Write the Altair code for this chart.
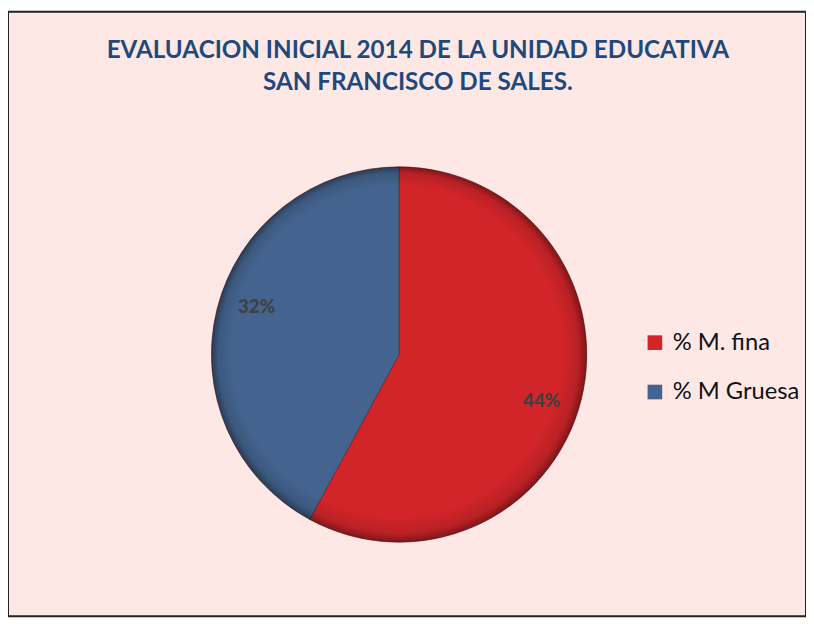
import altair as alt
import pandas as pd

categories = ["% M. fina", "% M Gruesa"]
values = [44, 32]
labels = ["44%", "32%"]
title_lines = ["EVALUACION INICIAL 2014 DE LA UNIDAD EDUCATIVA", "SAN FRANCISCO DE SALES."]
colors = ["#D2252A", "#44648F"]

df = pd.DataFrame({"cat": categories, "val": values, "lab": labels, "order": [0, 1]})
tdf = pd.DataFrame({"line": title_lines, "row": [0, 1]})

FONT = "Lato, sans-serif"
CX, CY, R = 396, 347, 190

base = alt.Chart(df).encode(
    theta=alt.Theta("val:Q", stack=True),
    order=alt.Order("order:Q"),
)

pie = base.mark_arc(stroke="#5a1a1a", strokeWidth=0.6).encode(
    x=alt.value(CX), y=alt.value(CY), radius=alt.value(R),
    color=alt.Color(
        "cat:N",
        scale=alt.Scale(domain=categories, range=colors),
        legend=alt.Legend(
            title=None, orient="none", legendX=643, legendY=323,
            symbolType="square", symbolSize=220, symbolStrokeWidth=0,
            labelFont=FONT, labelFontSize=24, labelColor="#111111",
            rowPadding=26, labelOffset=6,
        ),
    ),
)

shade = alt.Chart(df.iloc[:1]).mark_arc(
    theta=0, theta2=6.2832,
    color={
        "gradient": "radial",
        "x1": 0.45, "y1": 0.43, "r1": 0,
        "x2": 0.5, "y2": 0.5, "r2": 0.5,
        "stops": [
            {"offset": 0, "color": "rgba(0,0,0,0)"},
            {"offset": 0.88, "color": "rgba(0,0,0,0)"},
            {"offset": 0.96, "color": "rgba(0,0,0,0.12)"},
            {"offset": 1, "color": "rgba(0,0,0,0.4)"},
        ],
    },
).encode(x=alt.value(CX), y=alt.value(CY), radius=alt.value(R))

txt = base.mark_text(
    font=FONT, fontSize=19, fontWeight=900, color="#404040", thetaOffset=0.07
).encode(
    x=alt.value(CX), y=alt.value(CY), radius=alt.value(152), text="lab:N"
)

title = alt.Chart(tdf).mark_text(
    font=FONT, fontSize=24.5, fontWeight="bold", color="#1F497D"
).encode(
    x=alt.value(415),
    y=alt.Y("row:Q", scale=alt.Scale(domain=[0, 1], range=[40, 72]), axis=None),
    text="line:N",
)

chart = alt.layer(pie, shade, txt, title).properties(
    width=808, height=612,
    autosize=alt.AutoSizeParams(type="none"),
    padding=0,
    background="white",
).configure_view(fill="#FDE8E6", stroke="#222222", strokeWidth=2)

chart.save("out.html", embed_options={"renderer": "svg", "actions": False})
